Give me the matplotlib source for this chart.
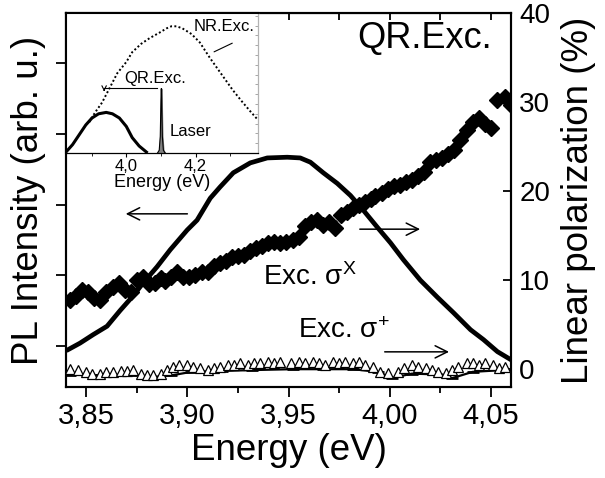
import matplotlib
matplotlib.use("Agg")
import matplotlib.pyplot as plt
from matplotlib.ticker import MultipleLocator, FuncFormatter, NullFormatter

plt.rcParams['font.family'] = ['Liberation Sans', 'DejaVu Sans']
plt.rcParams['mathtext.fontset'] = 'custom'
plt.rcParams['mathtext.rm'] = 'Liberation Sans'
plt.rcParams['mathtext.it'] = 'Liberation Sans:italic'

# ---------------- data ----------------
# PL spectrum (left axis, arb. u.)
pl_energy = [3.8405, 3.8469, 3.8534, 3.8603, 3.8667, 3.8732, 3.8781, 3.8850, 3.8915,
             3.8999, 3.9048, 3.9113, 3.9162, 3.9227, 3.9311, 3.9395, 3.9494, 3.9558,
             3.9608, 3.9672, 3.9741, 3.9806, 3.9870, 3.9939, 4.0004, 4.0068, 4.0152,
             4.0236, 4.0316, 4.0400, 4.0464, 4.0533, 4.0603]
pl_intensity = [0.94, 1.04, 1.16, 1.28, 1.50, 1.71, 1.89, 2.12, 2.36,
                2.64, 2.78, 3.09, 3.25, 3.45, 3.59, 3.66, 3.67, 3.66,
                3.60, 3.45, 3.30, 3.13, 2.92, 2.68, 2.46, 2.22, 1.93,
                1.69, 1.47, 1.23, 1.09, 0.92, 0.80]

# Linear polarization, excitation sigma-X (diamonds, right axis, %)
polx_energy = [3.842, 3.845, 3.848, 3.851, 3.854, 3.857, 3.860, 3.863, 3.866, 3.869,
               3.872, 3.875, 3.878, 3.881, 3.884, 3.887, 3.889, 3.892, 3.895, 3.898,
               3.901, 3.904, 3.907, 3.910, 3.913, 3.916, 3.919, 3.922, 3.925, 3.928,
               3.931, 3.934, 3.937, 3.940, 3.943, 3.946, 3.949, 3.952, 3.955, 3.958,
               3.961, 3.964, 3.967, 3.970, 3.973, 3.976, 3.979, 3.982, 3.985, 3.988,
               3.991, 3.993, 3.996, 3.999, 4.002, 4.005, 4.008, 4.011, 4.014, 4.017,
               4.020, 4.023, 4.026, 4.029, 4.032, 4.035, 4.038, 4.041, 4.044, 4.047,
               4.050, 4.053, 4.057, 4.060]
polx_value = [7.8, 8.2, 8.9, 8.7, 8.0, 7.8, 8.7, 9.2, 9.7, 8.9,
              8.7, 10.0, 10.3, 9.6, 9.7, 10.2, 9.9, 10.4, 10.9, 10.4,
              10.3, 10.6, 10.9, 10.9, 11.6, 11.9, 12.2, 12.6, 12.7, 12.8,
              13.3, 13.6, 13.8, 14.2, 14.3, 14.2, 14.3, 14.5, 14.9, 16.1,
              16.5, 16.7, 16.2, 16.5, 15.8, 17.3, 17.6, 18.1, 18.4, 18.8,
              19.1, 19.4, 19.8, 20.2, 20.6, 20.7, 21.0, 21.2, 21.7, 22.1,
              23.3, 23.5, 23.7, 24.2, 24.6, 25.7, 26.9, 27.8, 28.2, 27.5,
              27.1, 30.2, 30.6, 29.7]

# Linear polarization, excitation sigma+ (open triangles, right axis, %)
polp_energy = [3.842, 3.846, 3.850, 3.853, 3.857, 3.860, 3.863, 3.867, 3.870, 3.873,
               3.877, 3.880, 3.883, 3.887, 3.890, 3.893, 3.896, 3.900, 3.903, 3.906,
               3.910, 3.913, 3.916, 3.920, 3.923, 3.926, 3.930, 3.933, 3.936, 3.940,
               3.943, 3.946, 3.951, 3.955, 3.958, 3.962, 3.965, 3.968, 3.972, 3.975,
               3.978, 3.982, 3.985, 3.988, 3.992, 3.995, 3.999, 4.004, 4.007, 4.011,
               4.014, 4.018, 4.021, 4.024, 4.028, 4.031, 4.034, 4.038, 4.041, 4.044,
               4.047, 4.051, 4.054, 4.057]
polp_value = [-0.03, -0.1, -0.3, -0.5, -0.5, -0.3, -0.3, -0.2, -0.2, -0.1,
              -0.5, -0.6, -0.7, -0.5, -0.1, 0.26, 0.45, 0.45, 0.26, 0.08,
              -0.1, 0.08, 0.26, 0.45, 0.45, 0.64, 0.45, 0.64, 0.64, 0.82,
              0.64, 0.82, 0.64, 0.82, 0.64, 0.82, 0.64, 0.45, 0.82, 0.64,
              0.82, 0.64, 0.82, 0.45, 0.26, -0.3, -0.48, -0.3, 0.08, 0.45,
              0.26, 0.08, -0.1, -0.3, -0.48, -0.1, 0.26, 0.64, 0.64, 0.45,
              0.64, 0.45, 0.08, 0.26]

# baseline series under the triangles (black dashes)
base_energy = [3.842, 3.857, 3.872, 3.882, 3.892, 3.902, 3.917, 3.932, 3.952,
               3.967, 3.982, 3.994, 4.001, 4.011, 4.026, 4.031, 4.041, 4.056, 4.060]
base_value = [-0.6, -0.7, -0.6, -0.9, -0.7, -0.3, -0.2, -0.1, 0.0,
              0.0, 0.0, -0.3, -1.0, -0.5, -0.6, -1.0, -0.3, -0.1, -0.2]

# Inset: NR excitation spectrum (dotted)
nr_energy = [3.893, 3.910, 3.930, 3.951, 3.974, 4.000, 4.017, 4.043, 4.067, 4.096,
             4.116, 4.130, 4.145, 4.162, 4.188, 4.212, 4.241, 4.261, 4.284, 4.307,
             4.333, 4.357, 4.380]
nr_value = [0.22, 0.29, 0.36, 0.46, 0.57, 0.65, 0.72, 0.78, 0.82, 0.86,
            0.89, 0.905, 0.905, 0.89, 0.85, 0.79, 0.68, 0.61, 0.53, 0.45,
            0.37, 0.30, 0.236]

# Inset: QR excitation spectrum (solid)
qr_energy = [3.826, 3.845, 3.864, 3.883, 3.901, 3.920, 3.942, 3.960, 3.980,
             4.000, 4.017, 4.037, 4.058]
qr_value = [0.007, 0.06, 0.13, 0.20, 0.25, 0.28, 0.29, 0.28, 0.25,
            0.19, 0.11, 0.05, 0.007]

# Inset: laser line
laser_energy = [4.090, 4.095, 4.098, 4.100, 4.101, 4.102, 4.104, 4.107, 4.112]
laser_value = [0.0, 0.02, 0.12, 0.38, 0.46, 0.38, 0.12, 0.02, 0.0]

main_xticks = [3.85, 3.90, 3.95, 4.00, 4.05]
right_yticks = [0, 10, 20, 30, 40]
left_yticks = [1, 2, 3, 4, 5]
inset_xticks = [4.0, 4.2]

# ---------------- figure ----------------
W, H = 605, 478
fig = plt.figure(figsize=(W / 100, H / 100), dpi=100)

def box(x0, y0, x1, y1):
    return [x0 / W, 1 - y1 / H, (x1 - x0) / W, (y1 - y0) / H]

ax = fig.add_axes(box(66, 13, 511, 387))
ax2 = ax.twinx()

comma = FuncFormatter(lambda v, p: ("%.2f" % v).replace('.', ','))

ax.plot(pl_energy, pl_intensity, color='black', lw=3.4, zorder=3, solid_capstyle='round')
ax.set_xlim(3.84, 4.06)
ax.set_ylim(0.42, 5.71)
ax.set_xticks(main_xticks)
ax.xaxis.set_major_formatter(comma)
ax.xaxis.set_minor_locator(MultipleLocator(0.025))
ax.set_yticks(left_yticks)
ax.yaxis.set_major_formatter(NullFormatter())
ax.tick_params(axis='x', which='major', direction='out', length=7, width=1.3,
               labelsize=21, pad=4, top=False)
ax.tick_params(axis='x', which='minor', direction='out', length=4, width=1.3, top=False)
ax.tick_params(axis='y', which='major', direction='out', length=7, width=1.3, right=False)
for s in ax.spines.values():
    s.set_linewidth(1.5)
ax.set_xlabel('Energy (eV)', fontsize=26.5, labelpad=2)
ax.set_ylabel('PL Intensity (arb. u.)', fontsize=26.5, labelpad=4)

top = ax.secondary_xaxis('top')
top.xaxis.set_major_locator(MultipleLocator(0.025))
top.tick_params(direction='in', length=5, width=1.3, labeltop=False)

ax2.plot(base_energy, base_value, color='black', lw=1.6, marker='_', ms=9, mew=2.0, zorder=2)
ax2.plot(polp_energy, polp_value, ls='none', marker='^', ms=7.3, mfc='white', mec='black',
         mew=0.9, zorder=3)
ax2.plot(polx_energy, polx_value, ls='none', marker='D', ms=7.7, mfc='black', mec='black',
         zorder=4)
ax2.set_ylim(-2.0, 40.0)
ax2.set_yticks(right_yticks)
ax2.tick_params(axis='y', direction='in', length=6, width=1.3, labelsize=20, pad=6)
ax2.set_ylabel('Linear polarization (%)', fontsize=26.5, rotation=90, labelpad=8)
for s in ax2.spines.values():
    s.set_linewidth(1.5)

# annotations in main plot
ax.text(0.957, 0.933, 'QR.Exc.', transform=ax.transAxes, ha='right', va='center', fontsize=26)
ax.text(0.443, 0.294, r'Exc. $\mathregular{\sigma^{X}}$', transform=ax.transAxes,
        ha='left', va='center', fontsize=20)
ax.text(0.521, 0.150, r'Exc. $\mathregular{\sigma^{+}}$', transform=ax.transAxes,
        ha='left', va='center', fontsize=20)
arrow = dict(arrowstyle='->', color='black', lw=1.1, mutation_scale=22)
ax.annotate('', xy=(0.128, 0.463), xytext=(0.279, 0.463), xycoords='axes fraction',
            arrowprops=arrow)
ax.annotate('', xy=(0.802, 0.422), xytext=(0.654, 0.422), xycoords='axes fraction',
            arrowprops=arrow)
ax.annotate('', xy=(0.867, 0.094), xytext=(0.710, 0.094), xycoords='axes fraction',
            arrowprops=arrow)

# ---------------- inset ----------------
ins = fig.add_axes(box(66, 13, 258, 153))
ins.set_zorder(5)
ins.plot(nr_energy, nr_value, color='black', lw=1.4, ls=(0, (1, 1.2)))
ins.plot(qr_energy, qr_value, color='black', lw=2.2)
ins.fill_between(laser_energy, laser_value, color='0.5')
ins.plot(laser_energy, laser_value, color='black', lw=0.8)
ins.set_xlim(3.826, 4.38)
ins.set_ylim(0, 1)
ins.set_xticks(inset_xticks)
ins.xaxis.set_major_formatter(FuncFormatter(lambda v, p: ("%.1f" % v).replace('.', ',')))
ins.xaxis.set_minor_locator(MultipleLocator(0.1))
ins.tick_params(axis='x', which='major', direction='out', length=3, labelsize=12, pad=1)
ins.tick_params(axis='x', which='minor', direction='out', length=2)
ins.set_yticks([])
ins.yaxis.set_minor_locator(MultipleLocator(0.07))
ins.tick_params(axis='y', which='minor', direction='in', length=2, color='0.6',
                left=False, right=True)
ins.set_xlabel('Energy (eV)', fontsize=13, labelpad=0)
ins.spines['right'].set_color('0.7')
ins.spines['left'].set_linewidth(1.5)
ins.spines['top'].set_linewidth(1.5)
ins.spines['bottom'].set_linewidth(0.9)
ins.spines['right'].set_linewidth(0.9)

ins.text(4.371, 0.90, 'NR.Exc.', ha='right', va='center', fontsize=12)
ins.annotate('', xy=(4.246, 0.714), xytext=(4.313, 0.793),
             arrowprops=dict(arrowstyle='-', color='black', lw=0.8))
ins.text(4.084, 0.53, 'QR.Exc.', ha='center', va='center', fontsize=12)
ins.plot([4.090, 3.936], [0.464, 0.464], color='black', lw=0.8)
ins.annotate('', xy=(3.936, 0.42), xytext=(3.936, 0.47),
             arrowprops=dict(arrowstyle='->', color='black', lw=0.8, mutation_scale=8))
ins.text(4.125, 0.15, 'Laser', ha='left', va='center', fontsize=12)

fig.savefig('out.png', dpi=100)
